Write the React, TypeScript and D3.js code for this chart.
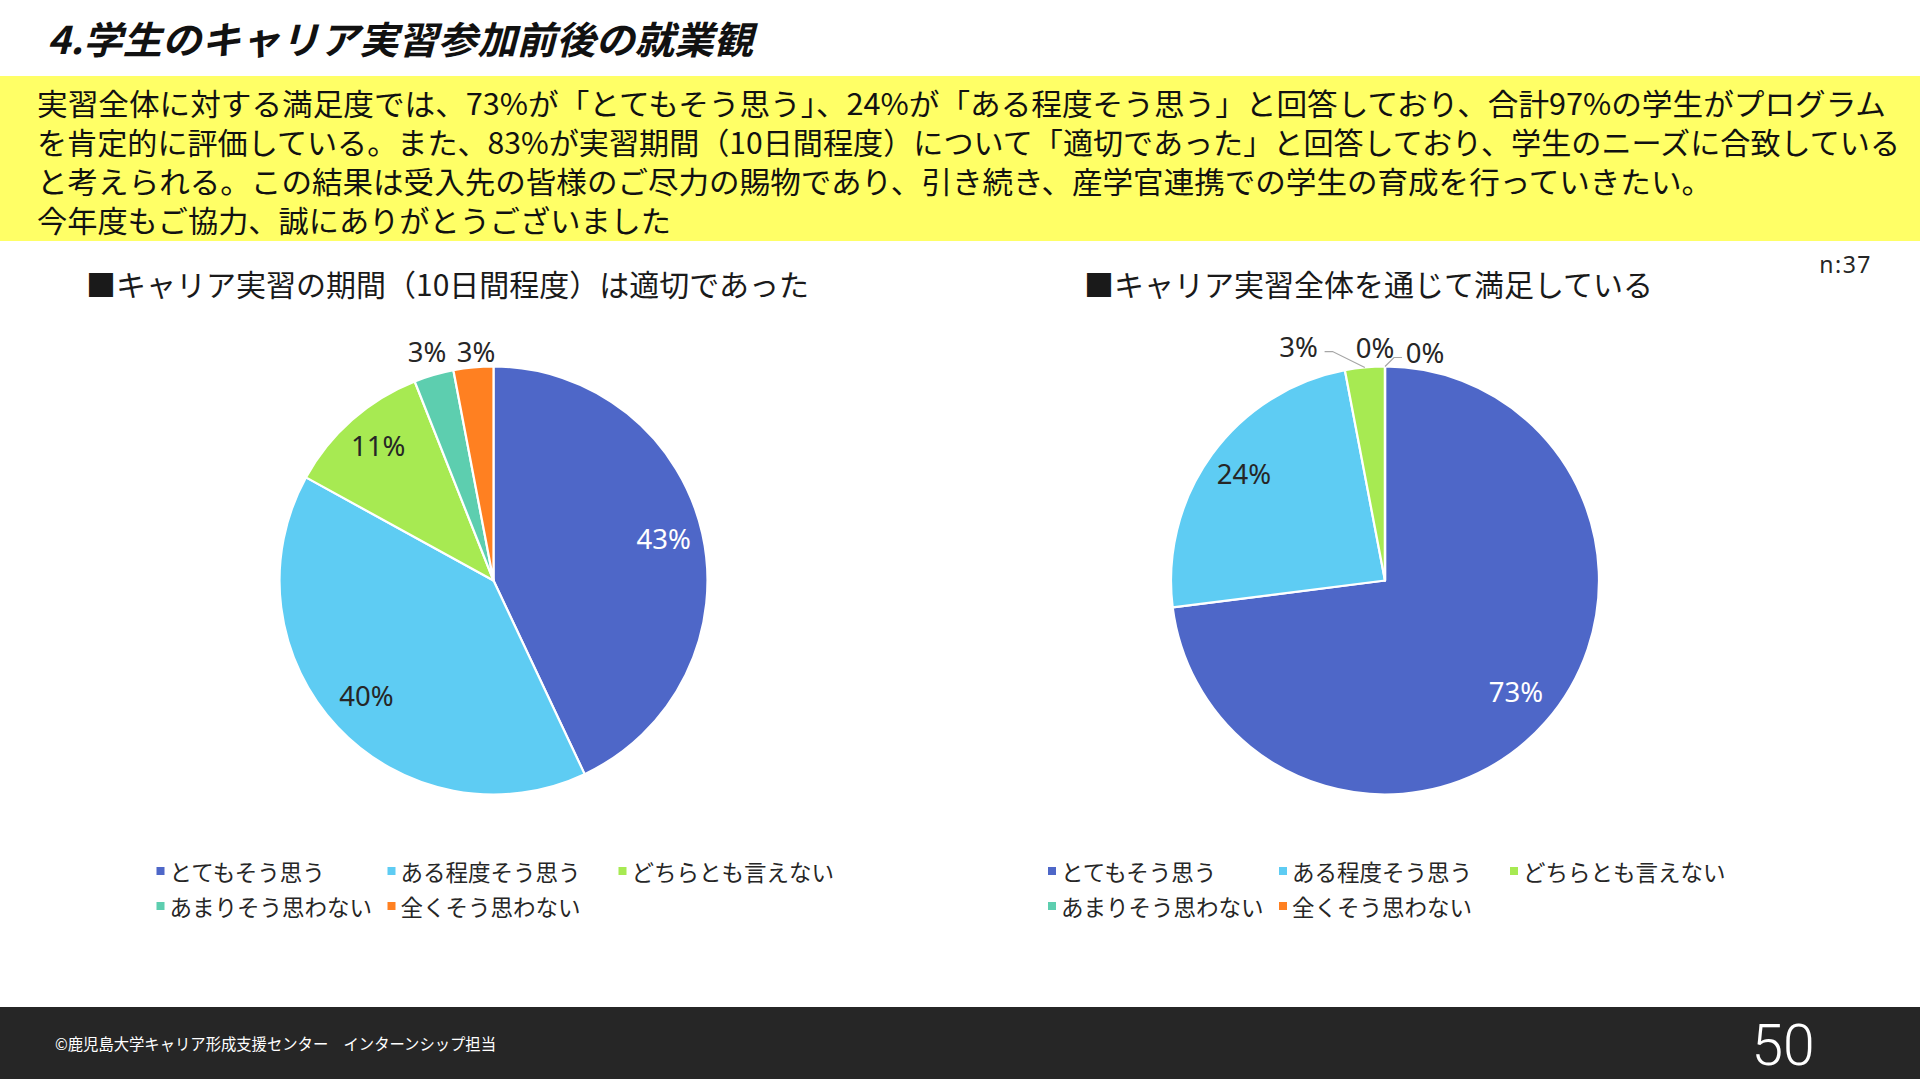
import React from 'react';
import * as d3 from 'd3';

// survey categories (legend order == slice order)
const categories = ['とてもそう思う', 'ある程度そう思う', 'どちらとも言えない', 'あまりそう思わない', '全くそう思わない'];
const sliceColors = ['#4E67C8', '#5ECCF3', '#A7EA52', '#5DCEAF', '#FF8021'];

// percentages as printed on the slide
const periodValues = [43, 40, 11, 3, 3];
const satisfactionValues = [73, 24, 3, 0, 0];
const sampleSize = 37;

const pageTitle = '4.学生のキャリア実習参加前後の就業観';
const summaryLines = [
  '実習全体に対する満足度では、73%が「とてもそう思う」、24%が「ある程度そう思う」と回答しており、合計97%の学生がプログラム',
  'を肯定的に評価している。また、83%が実習期間（10日間程度）について「適切であった」と回答しており、学生のニーズに合致している',
  'と考えられる。この結果は受入先の皆様のご尽力の賜物であり、引き続き、産学官連携での学生の育成を行っていきたい。',
  '今年度もご協力、誠にありがとうございました',
];
const summaryWidths = [1849, 1863, 1675, 634];
const periodTitle = '■キャリア実習の期間（10日間程度）は適切であった';
const satisfactionTitle = '■キャリア実習全体を通じて満足している';
const footerText = '©鹿児島大学キャリア形成支援センター　インターンシップ担当';
const pageNo = '50';

const W = 1920;
const H = 1079;
const R = 214;
const JP = '"Noto Sans CJK JP", "Noto Sans", sans-serif';
const NUM = '"Noto Sans", "DejaVu Sans", sans-serif';

interface PieProps {
  values: number[];
  cx: number;
  cy: number;
  title: string;
  titleX: number;
  nudges: Record<number, [number, number]>;
}

const PieBlock: React.FC<PieProps> = ({ values, cx, cy, title, titleX, nudges }) => {
  const pie = d3.pie<number>().sort(null).value(d => d);
  const arcs = pie(values);
  const arc = d3.arc<d3.PieArcDatum<number>>().innerRadius(0).outerRadius(R);
  const labelArc = d3.arc<d3.PieArcDatum<number>>().innerRadius(R * 0.815).outerRadius(R * 0.815);
  const outerArc = d3.arc<d3.PieArcDatum<number>>().innerRadius(R + 24).outerRadius(R + 24);
  const edgeArc = d3.arc<d3.PieArcDatum<number>>().innerRadius(R).outerRadius(R);

  const legendX = cx - 333;
  const colW = 231;
  const fs = 27.5;

  return (
    <g>
      <text x={titleX} y={283} fontFamily={JP} fontSize={30} fill="#1a1a1a" dominantBaseline="central">
        {title}
      </text>
      <g transform={`translate(${cx},${cy})`}>
        {arcs.map((a, i) => (
          <path key={i} d={arc(a) || ''} fill={sliceColors[i]} stroke="#fff" strokeWidth={2.2} strokeLinejoin="round" />
        ))}
        {arcs.map((a, i) => {
          const p = a.data;
          if (p >= 10) {
            const [x, y] = labelArc.centroid(a);
            return (
              <text key={i} x={x} y={y - 4} textAnchor="middle" dominantBaseline="central" fontFamily={NUM}
                fontSize={fs} fill={i === 0 ? '#fff' : '#262626'}>
                {p}%
              </text>
            );
          }
          const [ox, oy] = outerArc.centroid(a);
          const nd = nudges[i] || [0, 0];
          const lx = ox + nd[0];
          const ly = oy + nd[1];
          const [ax, ay] = edgeArc.centroid(a);
          const dist = Math.hypot(lx - ax, ly - ay);
          let leader = null;
          if (dist > 30) {
            const half = 21;
            const left = lx < ax;
            const ex = left ? lx + half + 5 : lx - half - 2;
            const ey = ly + 5;
            const bx = left ? ex + 8 : ex - 8;
            leader = (
              <polyline points={`${ax},${ay} ${bx},${ey} ${ex},${ey}`} fill="none" stroke="#a6a6a6" strokeWidth={1.2} />
            );
          }
          return (
            <g key={i}>
              {leader}
              <text x={lx} y={ly} textAnchor="middle" dominantBaseline="central" fontFamily={NUM}
                fontSize={fs} fill="#262626">
                {p}%
              </text>
            </g>
          );
        })}
      </g>
      {categories.map((c, i) => {
        const row = i < 3 ? 0 : 1;
        const col = i < 3 ? i : i - 3;
        const x = legendX + col * colW;
        const y = 871 + row * 35;
        return (
          <g key={c}>
            <rect x={x - 4} y={y - 4} width={8} height={8} fill={sliceColors[i]} />
            <text x={x + 9} y={y} fontFamily={JP} fontSize={22.5} fill="#262626" dominantBaseline="central">
              {c}
            </text>
          </g>
        );
      })}
    </g>
  );
};

export default function App() {
  return (
    <svg width={W} height={H} viewBox={`0 0 ${W} ${H}`}
      style={{ position: 'absolute', left: 0, top: 0, display: 'block', background: '#fff' }}>
      <rect x={0} y={0} width={W} height={H} fill="#fff" />
      <text x={47} y={37} fontFamily={JP} fontSize={38} fontWeight={700} fontStyle="italic" fill="#111"
        dominantBaseline="central" textLength={706} lengthAdjust="spacingAndGlyphs">
        {pageTitle}
      </text>

      <rect x={0} y={76} width={W} height={165} fill="#FFFF66" />
      {summaryLines.map((line, i) => (
        <text key={i} x={37} y={102 + i * 39} fontFamily={JP} fontSize={30} fill="#111"
          dominantBaseline="central" textLength={summaryWidths[i]} lengthAdjust="spacingAndGlyphs">
          {line}
        </text>
      ))}

      <text x={1872} y={264} textAnchor="end" fontFamily={NUM} fontSize={23} fill="#262626"
        dominantBaseline="central" letterSpacing={1.5}>
        {`n:${sampleSize}`}
      </text>

      <PieBlock values={periodValues} cx={493.5} cy={580.5} title={periodTitle} titleX={86}
        nudges={{ 4: [5, 8] }} />
      <PieBlock values={satisfactionValues} cx={1385} cy={580.5} title={satisfactionTitle} titleX={1084}
        nudges={{ 2: [-64, 3], 3: [-10, 5], 4: [40, 10] }} />

      <rect x={0} y={1007} width={W} height={72} fill="#262626" />
      <text x={55} y={1043} fontFamily={JP} fontSize={16} fill="#fff" dominantBaseline="central"
        textLength={441} lengthAdjust="spacingAndGlyphs">
        {footerText}
      </text>
      <text x={1783} y={1045} textAnchor="middle" fontFamily="Roboto, sans-serif" fontWeight={300} fontSize={57}
        fill="#fff" dominantBaseline="central">
        {pageNo}
      </text>
    </svg>
  );
}
